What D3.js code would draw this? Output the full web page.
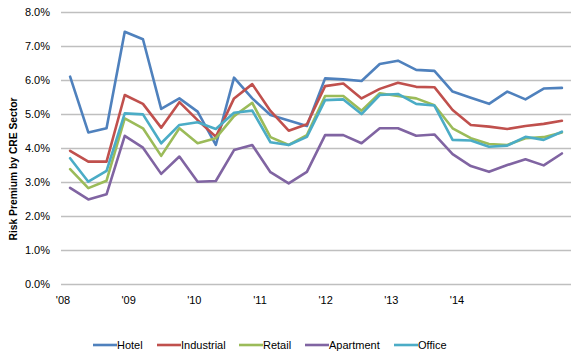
<!DOCTYPE html>
<html>
<head>
<meta charset="utf-8">
<script src="https://cdn.jsdelivr.net/npm/d3@7"></script>
<style>
  body { margin: 0; background: #fff; }
  svg { display: block; font-family: "Liberation Sans", Arial, sans-serif; }
</style>
</head>
<body>
<div id="chart"></div>
<script>
// quarterly, Q1 2008 .. Q4 2014
const quarters = d3.range(28);

const yearLabels = ["'08", "'09", "'10", "'11", "'12", "'13", "'14"];

const yTicks = [0, 1, 2, 3, 4, 5, 6, 7, 8];

const seriesNames = ["Hotel", "Industrial", "Retail", "Apartment", "Office"];

const seriesColors = ["#4f81bd", "#c0504d", "#9bbb59", "#8064a2", "#4bacc6"];

const hotel = [6.09, 4.45, 4.57, 7.41, 7.19, 5.14, 5.45, 5.06, 4.08, 6.06, 5.45, 4.96, 4.8, 4.64,
  6.04, 6.01, 5.96, 6.46, 6.56, 6.29, 6.26, 5.65, 5.47, 5.29, 5.65, 5.42, 5.74, 5.76];

const industrial = [3.91, 3.59, 3.59, 5.55, 5.29, 4.59, 5.34, 4.81, 4.32, 5.45, 5.87, 5.08, 4.5, 4.69,
  5.81, 5.89, 5.45, 5.73, 5.91, 5.79, 5.78, 5.11, 4.67, 4.62, 4.55, 4.64, 4.7, 4.79];

const retail = [3.37, 2.81, 3.03, 4.86, 4.57, 3.76, 4.57, 4.13, 4.28, 4.93, 5.32, 4.31, 4.08, 4.37,
  5.52, 5.52, 5.09, 5.6, 5.52, 5.45, 5.25, 4.57, 4.28, 4.11, 4.08, 4.28, 4.31, 4.45];

const apartment = [2.82, 2.48, 2.63, 4.35, 4.0, 3.23, 3.74, 3.0, 3.02, 3.93, 4.08, 3.28, 2.95, 3.29,
  4.37, 4.37, 4.13, 4.57, 4.57, 4.35, 4.39, 3.81, 3.46, 3.29, 3.49, 3.66, 3.48, 3.83];

const office = [3.69, 3.0, 3.32, 5.01, 4.98, 4.13, 4.67, 4.75, 4.55, 5.03, 5.09, 4.16, 4.08, 4.32,
  5.4, 5.42, 4.99, 5.55, 5.58, 5.29, 5.24, 4.23, 4.21, 4.03, 4.06, 4.32, 4.23, 4.47];

const seriesValues = [hotel, industrial, retail, apartment, office];

const width = 580;
const height = 361;

const svg = d3.select('#chart')
  .append('svg')
  .attr('width', width)
  .attr('height', height);

const x = d3.scaleBand()
  .domain(quarters)
  .range([61, 571]);

const y = d3.scaleLinear()
  .domain([0, 8])
  .range([283.7, 11.7]);

// year labels do not sit on the quarter bands in the original
const xYear = d3.scalePoint()
  .domain(yearLabels)
  .range([63, 457]);

// gridlines
svg.append('g')
  .selectAll('line')
  .data(yTicks)
  .join('line')
  .attr('x1', 61)
  .attr('x2', 571)
  .attr('y1', d => Math.round(y(d)) + 0.5)
  .attr('y2', d => Math.round(y(d)) + 0.5)
  .attr('stroke', '#bfbfbf')
  .attr('stroke-width', 1.3);

// y tick labels
svg.append('g')
  .selectAll('text')
  .data(yTicks)
  .join('text')
  .attr('x', 50)
  .attr('y', d => y(d))
  .attr('dy', '0.35em')
  .attr('text-anchor', 'end')
  .attr('font-size', 11)
  .attr('fill', '#000')
  .text(d => d.toFixed(1) + '%');

// x labels
svg.append('g')
  .selectAll('text')
  .data(yearLabels)
  .join('text')
  .attr('x', d => xYear(d))
  .attr('y', 304)
  .attr('text-anchor', 'middle')
  .attr('font-size', 11)
  .attr('fill', '#000')
  .text(d => d);

// axis title
svg.append('text')
  .attr('transform', 'translate(17,169) rotate(-90)')
  .attr('text-anchor', 'middle')
  .attr('font-size', 10.3)
  .attr('font-weight', 'bold')
  .attr('fill', '#000')
  .text('Risk Premium by CRE Sector');

const lineFunction = d3.line()
  .x((d, i) => x(quarters[i]) + x.bandwidth() / 2)
  .y(d => y(d));

for (let s = 0; s < seriesNames.length; s++) {
  svg.append('path')
    .attr('d', lineFunction(seriesValues[s]))
    .attr('fill', 'none')
    .attr('stroke', seriesColors[s])
    .attr('stroke-width', 2.6)
    .attr('stroke-linejoin', 'round')
    .attr('stroke-linecap', 'round');
}

// legend
const legendX = [93, 157, 239, 305, 394];
const legend = svg.append('g')
  .selectAll('g')
  .data(seriesNames)
  .join('g')
  .attr('transform', (d, i) => `translate(${legendX[i]},345)`);

legend.append('line')
  .attr('x1', 0)
  .attr('x2', 24)
  .attr('stroke', (d, i) => seriesColors[i])
  .attr('stroke-width', 2.6);

legend.append('text')
  .attr('x', 24)
  .attr('dy', '0.35em')
  .attr('font-size', 11)
  .attr('fill', '#000')
  .text(d => d);
</script>
</body>
</html>
